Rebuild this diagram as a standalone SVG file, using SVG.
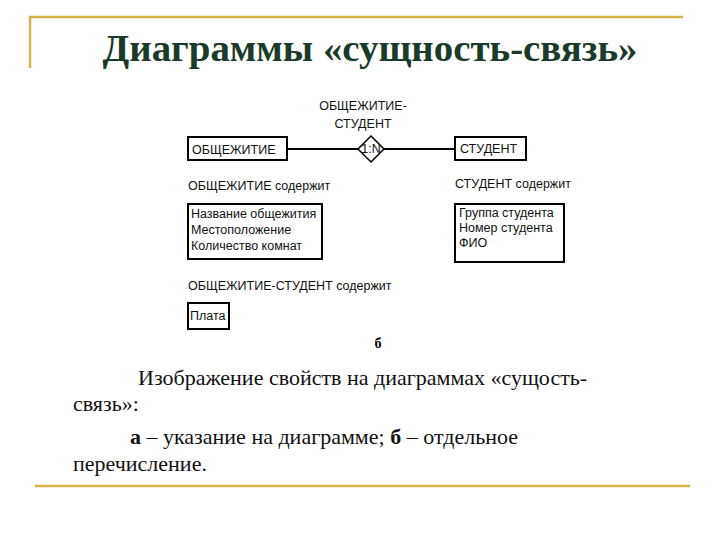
<svg xmlns="http://www.w3.org/2000/svg" width="720" height="540" viewBox="0 0 720 540">
<style>
.d{font-family:"Liberation Sans",Arial,sans-serif;font-size:12.5px;fill:#111}
.b{fill:#fff;stroke:#000;stroke-width:2}
.s{font-family:"Liberation Serif","Times New Roman",serif;font-size:22px;fill:#111}
.g{stroke:#d4b44a;stroke-width:2.5;fill:none}
</style>
<rect width="720" height="540" fill="#fff"/>
<path class="g" d="M30 68V17H683"/>
<path class="g" d="M35 486H690"/>
<text x="370" y="61" text-anchor="middle" font-family="Liberation Serif,serif" font-size="38" font-weight="bold" fill="#1a3a2a" textLength="535" lengthAdjust="spacingAndGlyphs">Диаграммы «сущность-связь»</text>
<g id="connectors" stroke="#000" stroke-width="2">
<line x1="287" y1="149" x2="358" y2="149"/>
<line x1="384" y1="149" x2="455" y2="149"/>
</g>
<g id="n1"><rect class="b" x="188" y="137" width="99" height="23"/><text class="d" x="192" y="154">ОБЩЕЖИТИЕ</text></g>
<g id="rel"><polygon points="371,136 384,149 371,162 358,149" fill="#fff" stroke="#000" stroke-width="1.5"/><text class="d" x="371" y="153" text-anchor="middle" font-size="10">1:N</text>
<text class="d" x="363" y="110" text-anchor="middle">ОБЩЕЖИТИЕ-</text><text class="d" x="363" y="128" text-anchor="middle">СТУДЕНТ</text></g>
<g id="n2"><rect class="b" x="455" y="137" width="71" height="23"/><text class="d" x="460" y="153">СТУДЕНТ</text></g>
<text class="d" x="188" y="190">ОБЩЕЖИТИЕ содержит</text>
<text class="d" x="455" y="188">СТУДЕНТ содержит</text>
<g id="a1"><rect class="b" x="188" y="204" width="134" height="55"/><text class="d" x="191" y="218">Название общежития</text><text class="d" x="191" y="234">Местоположение</text><text class="d" x="191" y="250">Количество комнат</text></g>
<g id="a2"><rect class="b" x="455" y="204" width="109" height="58"/><text class="d" x="459" y="217">Группа студента</text><text class="d" x="459" y="232">Номер студента</text><text class="d" x="459" y="247">ФИО</text></g>
<text class="d" x="188" y="290">ОБЩЕЖИТИЕ-СТУДЕНТ содержит</text>
<g id="a3"><rect class="b" x="188" y="303" width="41" height="26"/><text class="d" x="190" y="320">Плата</text></g>
<text x="378" y="348" text-anchor="middle" font-family="Liberation Serif,serif" font-size="14" font-weight="bold">б</text>
<text class="s" x="138" y="385">Изображение свойств на диаграммах «сущость-</text>
<text class="s" x="73" y="411">связь»:</text>
<text class="s" x="130" y="444"><tspan font-weight="bold">а</tspan> – указание на диаграмме; <tspan font-weight="bold">б</tspan> – отдельное</text>
<text class="s" x="73" y="471">перечисление.</text>
</svg>
